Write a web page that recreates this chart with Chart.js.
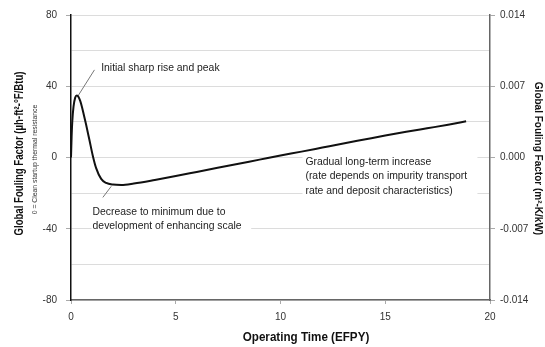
<!DOCTYPE html>
<html>
<head>
<meta charset="utf-8">
<script src="https://cdn.jsdelivr.net/npm/chart.js@4.4.1/dist/chart.umd.min.js"></script>
<style>
  html, body { margin: 0; padding: 0; background: #fff; }
  #wrap { width: 545px; height: 347px; }
</style>
</head>
<body>
<div id="wrap"><canvas id="c" width="545" height="347"></canvas></div>
<script>
// Operating time (EFPY) and global fouling factor (µh-ft²-°F/Btu)
const timeEfpy = [0, 0.03, 0.06, 0.12, 0.2, 0.28, 0.36, 0.44, 0.52, 0.6, 0.72, 0.88, 1.04, 1.2, 1.44, 1.68, 2.0, 2.4, 3, 4, 5, 6, 7, 8, 9, 10, 11, 12, 13, 14, 15, 16, 17, 18, 18.86];
const foulingFactor = [0, 12, 20, 28.5, 33.6, 34.8, 34.0, 31.8, 28.5, 24.6, 18.5, 9.8, 1.0, -6.0, -12, -14.3, -15.2, -15.4, -14.6, -12.6, -10.4, -8.1, -5.8, -3.5, -1.2, 1.1, 3.3, 5.6, 7.9, 10.1, 12.3, 14.4, 16.4, 18.4, 20.3];

// Axis ranges and tick steps
const xTicks = [0, 5, 10, 15, 20];
const leftTicks = [-80, -40, 0, 40, 80];
const rightTicks = ['-0.014', '-0.007', '0.000', '0.007', '0.014'];

// Text labels
const xTitle = 'Operating Time (EFPY)';
const yTitle = 'Global Fouling Factor (µh-ft²-°F/Btu)';
const ySubTitle = '0 = Clean startup thermal resistance';
const y2Title = 'Global Fouling Factor (m²-K/kW)';

// Callout notes: text lines, anchored in data units
const noteInitial = ['Initial sharp rise and peak'];
const noteDecrease = ['Decrease to minimum due to', 'development of enhancing scale'];
const noteGradual = ['Gradual long-term increase', '(rate depends on impurity transport', 'rate and deposit characteristics)'];

const callouts = [
  { lines: noteInitial, x: 1.44, y: 50, lineStep: 8.3, leader: [[0.33, 34.5], [1.12, 49.2]], box: null },
  { lines: noteDecrease, x: 1.03, y: -30.4, lineStep: 8.3, leader: [[1.92, -16.2], [1.52, -22.4]], box: [0.98, -26.5, 8.6, -42.5] },
  { lines: noteGradual, x: 11.19, y: -2.5, lineStep: 8.1, leader: null, box: [11.05, 3.5, 19.4, -22.5] }
];

const FONT = '"Liberation Sans", Arial, sans-serif';

const calloutPlugin = {
  id: 'callouts',
  beforeDatasetsDraw(chart) {
    const { ctx, scales } = chart;
    const sx = scales.x, sy = scales.y;
    ctx.save();
    callouts.forEach(c => {
      if (c.box) {
        const x0 = sx.getPixelForValue(c.box[0]);
        const y0 = sy.getPixelForValue(c.box[1]);
        const x1 = sx.getPixelForValue(c.box[2]);
        const y1 = sy.getPixelForValue(c.box[3]);
        ctx.fillStyle = '#fff';
        ctx.fillRect(x0, y0, x1 - x0, y1 - y0);
      }
      if (c.leader) {
        ctx.strokeStyle = '#777';
        ctx.lineWidth = 1;
        ctx.beginPath();
        ctx.moveTo(sx.getPixelForValue(c.leader[0][0]), sy.getPixelForValue(c.leader[0][1]));
        ctx.lineTo(sx.getPixelForValue(c.leader[1][0]), sy.getPixelForValue(c.leader[1][1]));
        ctx.stroke();
      }
      ctx.fillStyle = '#222';
      ctx.font = '10.4px ' + FONT;
      ctx.textAlign = 'left';
      ctx.textBaseline = 'middle';
      c.lines.forEach((t, i) => {
        ctx.fillText(t, sx.getPixelForValue(c.x), sy.getPixelForValue(c.y - i * c.lineStep));
      });
    });
    ctx.restore();
  }
};

// Axis titles
const titlePlugin = {
  id: 'axisTitles',
  afterDraw(chart) {
    const { ctx, chartArea } = chart;
    const midY = (chartArea.top + chartArea.bottom) / 2;
    ctx.save();
    ctx.fillStyle = '#111';
    ctx.textAlign = 'center';
    ctx.textBaseline = 'middle';

    // bottom title
    ctx.font = 'bold 12px ' + FONT;
    ctx.save();
    ctx.translate(306, 338);
    ctx.scale(0.97, 1);
    ctx.fillText(xTitle, 0, 0);
    ctx.restore();

    // left title
    ctx.save();
    ctx.translate(20, midY - 4);
    ctx.rotate(-Math.PI / 2);
    ctx.scale(0.8, 1);
    ctx.font = 'bold 12px ' + FONT;
    ctx.fillText(yTitle, 0, 0);
    ctx.restore();

    // left sub-title
    ctx.save();
    ctx.translate(35, midY + 2);
    ctx.rotate(-Math.PI / 2);
    ctx.scale(0.85, 1);
    ctx.font = '8px ' + FONT;
    ctx.fillStyle = '#333';
    ctx.fillText(ySubTitle, 0, 0);
    ctx.restore();

    // right title
    ctx.save();
    ctx.translate(538, midY + 1);
    ctx.rotate(Math.PI / 2);
    ctx.scale(1.0, 1);
    ctx.font = 'bold 10px ' + FONT;
    ctx.fillText(y2Title, 0, 0);
    ctx.restore();

    ctx.restore();
  }
};

const majorTickColor = ctx => (ctx.tick && leftTicks.includes(ctx.tick.value)) ? '#aaa' : 'rgba(0,0,0,0)';

new Chart(document.getElementById('c'), {
  type: 'line',
  data: {
    datasets: [{
      data: timeEfpy.map((t, i) => ({ x: t, y: foulingFactor[i] })),
      borderColor: '#111',
      borderWidth: 2,
      pointRadius: 0,
      cubicInterpolationMode: 'monotone',
      fill: false,
      yAxisID: 'y'
    }]
  },
  options: {
    responsive: false,
    animation: false,
    events: [],
    layout: { padding: { top: 13, left: 0, right: 0, bottom: 0 } },
    plugins: { legend: { display: false }, tooltip: { enabled: false } },
    scales: {
      x: {
        type: 'linear',
        min: 0, max: 20,
        afterBuildTicks: s => { s.ticks = xTicks.map(v => ({ value: v })); },
        ticks: { color: '#333', font: { size: 10, family: FONT }, padding: 7, maxRotation: 0 },
        grid: { drawOnChartArea: false, drawTicks: true, tickLength: 4, tickColor: '#aaa' },
        border: { color: '#666', width: 1.5 },
        afterFit: s => { s.height = 47; }
      },
      y: {
        position: 'left',
        min: -80, max: 80,
        ticks: {
          stepSize: 20,
          color: '#333', font: { size: 10, family: FONT }, padding: 9,
          callback: v => leftTicks.includes(v) ? String(v) : ''
        },
        grid: { color: '#dcdcdc', lineWidth: 1, tickLength: 5, tickColor: majorTickColor },
        border: { color: '#111', width: 1.5 },
        afterFit: s => { s.width = 71; }
      },
      y2: {
        position: 'right',
        display: true,
        min: -0.014, max: 0.014,
        afterBuildTicks: s => { s.ticks = rightTicks.map(v => ({ value: parseFloat(v) })); },
        ticks: {
          color: '#333', font: { size: 10, family: FONT }, padding: 5,
          callback: (v, i) => rightTicks[i]
        },
        grid: { drawOnChartArea: false, tickLength: 5, tickColor: '#aaa' },
        border: { color: '#666', width: 1.5 },
        afterFit: s => { s.width = 55; }
      }
    }
  },
  plugins: [calloutPlugin, titlePlugin]
});
</script>
</body>
</html>
